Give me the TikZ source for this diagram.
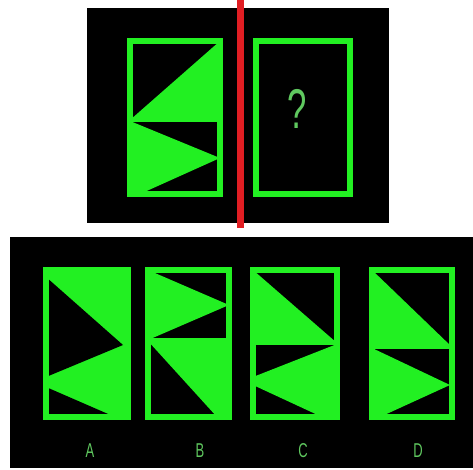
\documentclass[tikz,border=0pt]{standalone}
\usepackage{fontspec}
\setmainfont{Liberation Sans}
\definecolor{grn}{RGB}{34,240,34}
\definecolor{pale}{RGB}{95,200,95}
\definecolor{redline}{RGB}{225,30,35}
\begin{document}
\begin{tikzpicture}[x=1pt,y=-1pt,
  frame/.style={draw=grn,line width=6pt},
  divider/.style={draw=grn,line width=4pt},
  gfill/.style={fill=grn},
  bfill/.style={fill=black},
  qmark/.style={text=pale,font=\fontsize{56}{56}\selectfont,inner sep=0pt,xscale=0.62},
  lbl/.style={text=pale,font=\fontsize{20}{20}\selectfont,inner sep=0pt,xscale=0.65}]
\useasboundingbox (0,0) rectangle (473,470);
\fill[white] (0,0) rectangle (473,470);
% panels
\fill[black] (87,8) rectangle (389,223);
\fill[black] (10,237) rectangle (473,468);
\fill[redline] (236.5,0) rectangle (243.5,228);

% top-left figure
\fill[gfill] (220,41) -- (130,120) -- (220,120) -- cycle;
\fill[gfill] (130,121) -- (220,158) -- (140,194) -- (130,194) -- cycle;
\draw[divider] (130,120) -- (220,120);
\draw[frame] (130,41) rectangle (220,194);

% top-right figure
\draw[frame] (256,41) rectangle (350,194);
\node[qmark] (q) at (297,109) {?};

% option A
\fill[gfill] (46,270) rectangle (128,417);
\fill[bfill] (46,277) -- (123,345) -- (46,377) -- cycle;
\fill[bfill] (46,387) -- (115,417) -- (46,417) -- cycle;
\draw[frame] (46,270) rectangle (128,417);

% option B
\fill[gfill] (148,270) -- (229,305) -- (148,340) -- cycle;
\fill[gfill] (148,341) -- (229,341) -- (229,417) -- (217,417) -- cycle;
\draw[divider] (148,340) -- (229,340);
\draw[frame] (148,270) rectangle (229,417);

% option C
\fill[gfill] (253,270) -- (337,343) -- (253,343) -- cycle;
\fill[gfill] (337,344) -- (253,377) -- (253,385) -- (322,417) -- (337,417) -- cycle;
\draw[divider] (253,343) -- (337,343);
\draw[frame] (253,270) rectangle (337,417);

% option D
\fill[gfill] (372,270) -- (452,347) -- (372,347) -- cycle;
\fill[gfill] (372,348) -- (450,385) -- (380,417) -- (372,417) -- cycle;
\draw[divider] (372,347) -- (452,347);
\draw[frame] (372,270) rectangle (452,417);

% labels
\node[lbl] (la) at (90,451) {A};
\node[lbl] (lb) at (200,451) {B};
\node[lbl] (lc) at (303,451) {C};
\node[lbl] (ld) at (418,451) {D};
\end{tikzpicture}
\end{document}
